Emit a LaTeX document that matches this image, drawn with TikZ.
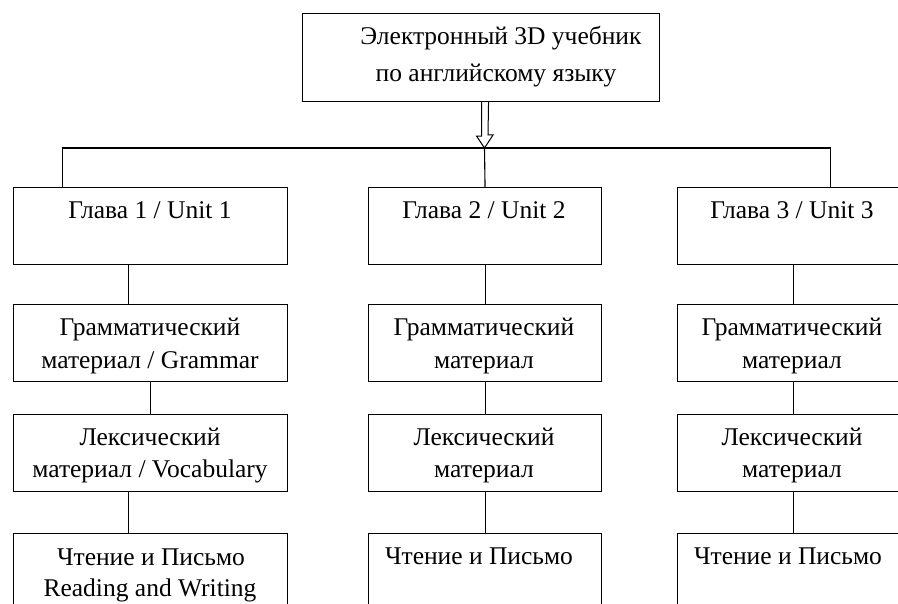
\documentclass[tikz,border=0pt]{standalone}
\usepackage{fontspec}
\setmainfont{Liberation Serif}
\begin{document}
\begin{tikzpicture}[x=1pt,y=-1pt,
  box/.style={draw=black,line width=1.1pt,minimum width=#1,minimum height=77pt,inner sep=0pt,anchor=north west},
  box/.default=274pt,
  txt/.style={inner sep=0pt,anchor=base,font=\fontsize{25.5}{31}\selectfont},
  conn/.style={draw=black,line width=1.1pt}]
\useasboundingbox (0,0) rectangle (898,604);
\clip (0,0) rectangle (898,604);
\fill[white] (0,0) rectangle (898,604);
% top
\node[box=357pt,minimum height=88pt] (top) at (302,13) {};
\node[txt] (top1) at (501,45) {Электронный 3D учебник};
\node[txt] (top2) at (496,82) {по английскому языку};
% row 1
\node[box] (g1) at (13,187) {};
\node[box=233pt] (g2) at (368,187) {};
\node[box=231pt] (g3) at (677,187) {};
\node[txt] (g1t) at (150,219) {Глава 1 / Unit 1};
\node[txt] (g2t) at (484,219) {Глава 2 / Unit 2};
\node[txt] (g3t) at (792,219) {Глава 3 / Unit 3};
% row 2
\node[box] (r1) at (13,304) {};
\node[box=233pt] (r2) at (368,304) {};
\node[box=231pt] (r3) at (677,304) {};
\node[txt] (r1a) at (150,336) {Грамматический};
\node[txt] (r1b) at (150,369) {материал / Grammar};
\node[txt] (r2a) at (484,336) {Грамматический};
\node[txt] (r2b) at (484,369) {материал};
\node[txt] (r3a) at (792,336) {Грамматический};
\node[txt] (r3b) at (792,369) {материал};
% row 3
\node[box] (l1) at (13,414) {};
\node[box=233pt] (l2) at (368,414) {};
\node[box=231pt] (l3) at (677,414) {};
\node[txt] (l1a) at (150,445) {Лексический};
\node[txt] (l1b) at (150,477) {материал / Vocabulary};
\node[txt] (l2a) at (484,445) {Лексический};
\node[txt] (l2b) at (484,477) {материал};
\node[txt] (l3a) at (792,445) {Лексический};
\node[txt] (l3b) at (792,477) {материал};
% row 4
\node[box] (c1) at (13,533) {};
\node[box=233pt] (c2) at (368,533) {};
\node[box=231pt] (c3) at (677,533) {};
\node[txt] (c1a) at (151,565) {Чтение и Письмо};
\node[txt] (c1b) at (150,596) {Reading and Writing};
\node[txt] (c2a) at (479,564) {Чтение и Письмо};
\node[txt] (c3a) at (788,564) {Чтение и Письмо};
% connectors
\coordinate (hub) at (484.5,148);
\draw[conn] ([xshift=-88pt]g1.north) |- (hub) -| ([xshift=37.5pt]g3.north);
\draw[conn] (hub) -- (g2.north);
\draw[conn,fill=white,line width=1pt,line join=miter]
  ([xshift=0.5pt]top.south) -- ++(0,34) -- ++(-5,0) -- (hub) -- ++(8.5,-13) -- ++(-5,0) -- ([xshift=7.5pt]top.south);
\draw[conn] ([xshift=-22pt]g1.south) -- ([xshift=-22pt]r1.north);
\draw[conn] (r1.south) -- (l1.north);
\draw[conn] ([xshift=-22pt]l1.south) -- ([xshift=-22pt]c1.north);
\draw[conn] (g2.south) -- (r2.north);
\draw[conn] (r2.south) -- (l2.north);
\draw[conn] (l2.south) -- (c2.north);
\draw[conn] (g3.south) -- (r3.north);
\draw[conn] (r3.south) -- (l3.north);
\draw[conn] (l3.south) -- (c3.north);
\end{tikzpicture}
\end{document}
